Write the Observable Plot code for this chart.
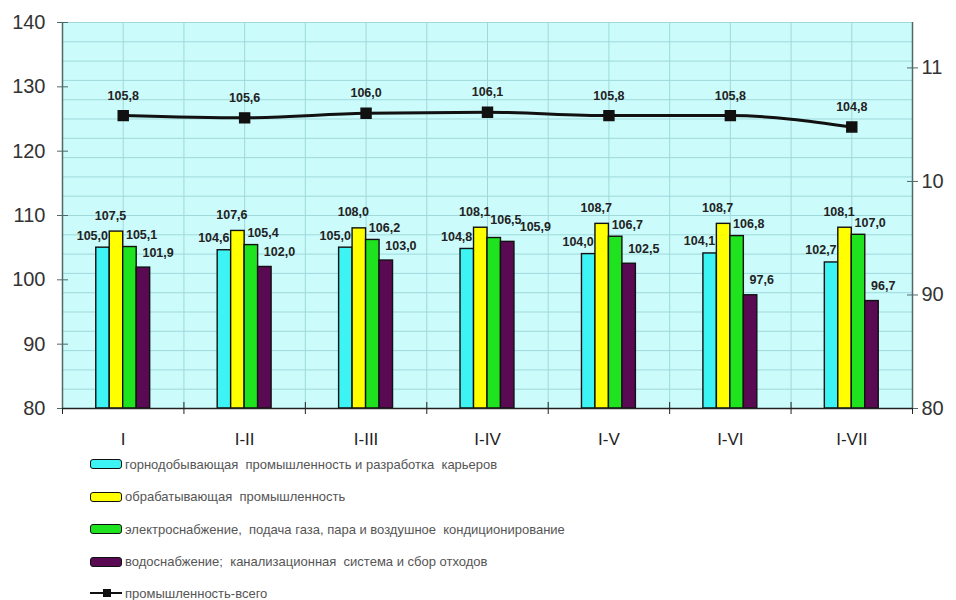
<!DOCTYPE html>
<html><head><meta charset="utf-8">
<script src="https://cdn.jsdelivr.net/npm/d3@7"></script>
<script src="https://cdn.jsdelivr.net/npm/@observablehq/plot@0.6"></script>
<style>
body{margin:0;background:#fff;font-family:"Liberation Sans",Arial,sans-serif;}
#wrap{position:relative;width:956px;height:600px;overflow:hidden;}
#legend{position:absolute;left:90px;top:448px;}
.row{height:32.5px;display:flex;align-items:center;font-size:13px;color:#555;white-space:pre;}
.sw{width:32px;height:10px;border:1.6px solid #111;border-radius:3px;margin-right:3px;box-sizing:border-box;}
</style></head><body><div id="wrap"><div id="chart"></div><div id="legend"></div></div>
<script>
const periods = ["I","I-II","I-III","I-IV","I-V","I-VI","I-VII"];
const mining = [105.0,104.6,105.0,104.8,104.0,104.1,102.7];
const manufacturing = [107.5,107.6,108.0,108.1,108.7,108.7,108.1];
const electricity = [105.1,105.4,106.2,106.5,106.7,106.8,107.0];
const water = [101.9,102.0,103.0,105.9,102.5,97.6,96.7];
const total = [105.8,105.6,106.0,106.1,105.8,105.8,104.8];
const seriesNames = [
  "горнодобывающая  промышленность и разработка  карьеров",
  "обрабатывающая  промышленность",
  "электроснабжение,  подача газа, пара и воздушное  кондиционирование",
  "водоснабжение;  канализационная  система и сбор отходов"
];
const totalName = "промышленность-всего";
const seriesColors = ["#3ef3f3","#ffff00","#1fe31f","#5a0a52"];
const leftTicks = [80,90,100,110,120,130,140];
const leftDomain = [80,140];
const rightTicks = [80,90,100,110];
const rightTickLabels = ["80","90","10","11"];
const rightDomain = [80,114];

const seriesValues = [mining, manufacturing, electricity, water];
const toLeft = v => leftDomain[0] + (v - rightDomain[0]) * (leftDomain[1]-leftDomain[0]) / (rightDomain[1]-rightDomain[0]);
const fmt = v => d3.format(".1f")(v).replace(".", ",");
const barW = 0.111;

// label placement (pixels): anchor, horizontal nudge from bar centre, height of label centre above bar top
const labelCfg = [
  {anchor: "end", dx: 5, dy: -12},
  {anchor: "middle", dx: -6, dy: -16},
  {anchor: "start", dx: -4, dy: -12},
  {anchor: "start", dx: -1, dy: -15}
];

const bars = [];
seriesValues.forEach((vals, s) => vals.forEach((v, i) => {
  const x1 = i + 0.5 + (s - 2) * barW;
  let dx = labelCfg[s].dx, dy = labelCfg[s].dy;
  // avoid collisions between electricity and water labels
  if (s === 3 && v > electricity[i] - 2) dx += 13;
  if (s === 2 && water[i] > v - 2) dy -= 6;
  bars.push({s, i, v, x1, x2: x1 + barW, xc: x1 + barW/2, color: seriesColors[s], dx, dy});
}));
const linePts = total.map((v, i) => ({x: i + 0.5, y: toLeft(v), v}));
const rightLabel = new Map(rightTicks.map((t, k) => [toLeft(t), rightTickLabels[k]]));

const marks = [
  Plot.frame({fill: "#ccfbfb", stroke: null}),
  Plot.ruleY(d3.range(80, 141, 3), {stroke: "#9fd9dc", strokeWidth: 1}),
  Plot.ruleX(d3.range(0.5, 7, 0.5), {stroke: "#9fd9dc", strokeWidth: 1}),
  Plot.rectY(bars, {x1: "x1", x2: "x2", y1: 80, y2: "v", fill: "color", stroke: "#111", strokeWidth: 1.4}),
  ...bars.map(b => Plot.text([b], {
    x: "xc", y: "v", text: d => fmt(d.v), textAnchor: labelCfg[b.s].anchor, lineAnchor: "middle",
    dx: b.dx, dy: b.dy, fontSize: 12.5, fontWeight: "bold", fill: "#222"
  })),
  Plot.line(linePts, {x: "x", y: "y", stroke: "#111", strokeWidth: 3, curve: "monotone-x"}),
  Plot.dot(linePts, {x: "x", y: "y", symbol: "square", r: 5.6, fill: "#111", stroke: "#111"}),
  Plot.text(linePts, {x: "x", y: "y", text: d => fmt(d.v), dy: -20, fontSize: 12.5, fontWeight: "bold", fill: "#222"}),
  Plot.axisY(leftTicks, {anchor: "left", tickSize: 5, tickPadding: 12, fontSize: 20, color: "#333", stroke: "#4f6868"}),
  Plot.axisY(leftTicks, {anchor: "left", tickSize: -6, tickFormat: () => "", stroke: "#4f6868"}),
  Plot.axisY(rightTicks.map(toLeft), {anchor: "right", tickSize: 5, tickPadding: 4, fontSize: 20, color: "#333", stroke: "#4f6868", tickFormat: d => rightLabel.get(d)}),
  Plot.axisY(rightTicks.map(toLeft), {anchor: "right", tickSize: -6, tickFormat: () => "", stroke: "#4f6868"}),
  Plot.axisX(d3.range(0.5, 7, 1), {anchor: "bottom", tickSize: 0, tickPadding: 24, fontSize: 17, color: "#222", tickFormat: d => periods[Math.floor(d)]}),
  Plot.axisX(d3.range(0, 8), {anchor: "bottom", tickSize: 6, tickFormat: () => "", stroke: "#222"}),
  Plot.axisX(d3.range(0, 8), {anchor: "bottom", tickSize: -6, tickFormat: () => "", stroke: "#222"}),
  Plot.ruleX([0], {stroke: "#4f6868", strokeWidth: 1.5}),
  Plot.ruleX([7], {stroke: "#4f6868", strokeWidth: 1.5}),
  Plot.ruleY([80], {stroke: "#222", strokeWidth: 1.5})
];

const chart = Plot.plot({
  width: 956, height: 452,
  marginTop: 22, marginBottom: 44, marginLeft: 62, marginRight: 44,
  x: {type: "linear", domain: [0, 7], axis: null},
  y: {domain: leftDomain, axis: null},
  style: {fontFamily: "Liberation Sans, Arial, sans-serif", background: "#fff"},
  marks
});
document.getElementById("chart").appendChild(chart);

const legend = document.getElementById("legend");
seriesNames.forEach((name, s) => {
  const row = document.createElement("div");
  row.className = "row";
  const sw = document.createElement("span");
  sw.className = "sw";
  sw.style.background = seriesColors[s];
  row.appendChild(sw);
  row.appendChild(document.createTextNode(name));
  legend.appendChild(row);
});
const lr = document.createElement("div");
lr.className = "row";
lr.style.height = "30px";
lr.innerHTML = '<svg width="32" height="12" style="margin-right:3px"><line x1="0" y1="6" x2="32" y2="6" stroke="#111" stroke-width="2"/><rect x="13" y="2" width="8" height="8" fill="#111"/></svg>';
lr.appendChild(document.createTextNode(totalName));
legend.appendChild(lr);
</script></body></html>
